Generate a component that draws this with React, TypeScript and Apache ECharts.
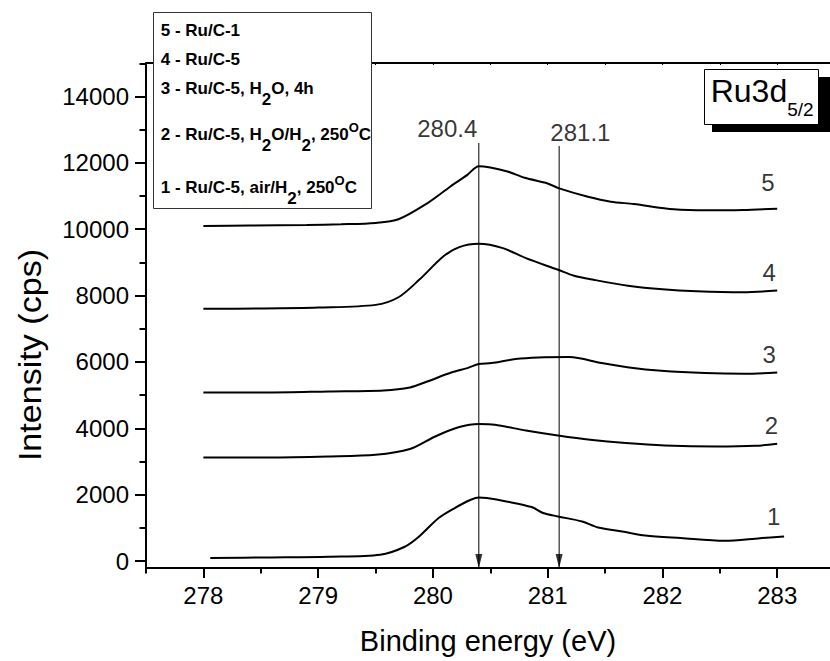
import React, { useEffect, useRef } from "react";
import * as echarts from "echarts";

const FONT = "'Liberation Sans', Arial, Helvetica, sans-serif";

// ---- axis ticks ----
const xMajorTicks = [278, 279, 280, 281, 282, 283];
const xMinorTicks = [277.5, 278.5, 279.5, 280.5, 281.5, 282.5];
const xTopTicks = [277.5, 278, 278.5, 279, 279.5, 280, 280.5, 281, 281.5, 282, 282.5, 283];
const yMajorTicks = [0, 2000, 4000, 6000, 8000, 10000, 12000, 14000];
const yMinorTicks = [1000, 3000, 5000, 7000, 9000, 11000, 13000, 15000];

// ---- spectra (binding energy, intensity) ----
const e1 = [278.06, 278.57, 279.09, 279.54, 279.75, 279.88, 280.05, 280.19, 280.33, 280.4, 280.47, 280.64, 280.86, 280.96, 281.09, 281.3, 281.44, 281.65, 281.85, 282.16, 282.54, 282.85, 283.06];
const i1 = [90, 108, 130, 190, 422, 741, 1296, 1597, 1847, 1916, 1898, 1796, 1627, 1446, 1344, 1193, 1012, 892, 771, 693, 610, 690, 741];

const e2 = [278.0, 278.57, 279.09, 279.5, 279.8, 280.02, 280.23, 280.4, 280.54, 280.81, 281.09, 281.37, 281.68, 282.02, 282.47, 282.81, 283.0];
const i2 = [3120, 3120, 3150, 3200, 3375, 3754, 4037, 4128, 4107, 3935, 3784, 3655, 3555, 3483, 3453, 3474, 3534];

const e3 = [278.0, 278.57, 279.09, 279.57, 279.8, 279.95, 280.16, 280.3, 280.4, 280.51, 280.72, 280.92, 281.19, 281.47, 281.71, 281.99, 282.37, 282.71, 283.0];
const i3 = [5080, 5080, 5110, 5140, 5230, 5410, 5680, 5815, 5936, 5966, 6086, 6134, 6146, 5966, 5833, 5734, 5664, 5643, 5683];

const e4 = [278.0, 278.5, 279.0, 279.5, 279.7, 279.88, 280.09, 280.23, 280.4, 280.61, 280.81, 281.09, 281.23, 281.4, 281.7, 282.0, 282.3, 282.7, 283.0];
const i4 = [7600, 7610, 7640, 7720, 7950, 8475, 9178, 9461, 9560, 9430, 9129, 8777, 8596, 8476, 8300, 8190, 8130, 8100, 8150];

const e5 = [278.0, 278.4, 278.9, 279.2, 279.5, 279.7, 279.95, 280.15, 280.3, 280.4, 280.5, 280.65, 280.8, 281.0, 281.1, 281.35, 281.55, 281.75, 282.1, 282.4, 282.7, 283.0];
const i5 = [10100, 10110, 10130, 10150, 10190, 10300, 10780, 11280, 11640, 11900, 11860, 11740, 11550, 11380, 11230, 10980, 10830, 10760, 10600, 10570, 10580, 10620];

// ---- curve number labels ----
const curveNames = ["1", "2", "3", "4", "5"];
const curveLabelX = [282.97, 282.95, 282.93, 282.93, 282.92];
const curveLabelY = [1330, 4070, 6210, 8710, 11410];

// ---- peak markers ----
const peakEnergies = [280.4, 281.1];
const peakLabels = ["280.4", "281.1"];
const peakLabelX = [280.125, 281.285];
const peakLabelY = [13030, 12910];
const arrowTopY = [12600, 12510];

// ---- legend text ( _x = subscript, ^x = superscript ) ----
const legendLines = [
  "5 - Ru/C-1",
  "4 - Ru/C-5",
  "3 - Ru/C-5, H_2O, 4h",
  "2 - Ru/C-5, H_2O/H_2, 250^OC",
  "1 - Ru/C-5, air/H_2, 250^OC",
];
const panelTitle = "Ru3d";
const panelSub = "5/2";
const yTitle = "Intensity (cps)";
const xTitle = "Binding energy (eV)";

const X_MIN = 277.5;
const X_MAX = 283.46;
const Y_MIN = -210;
const Y_MAX = 15010;

function parseRich(s: string) {
  const parts: { t: string; k: "n" | "sub" | "sup" }[] = [];
  let cur = "";
  for (let i = 0; i < s.length; i++) {
    const c = s[i];
    if ((c === "_" || c === "^") && i + 1 < s.length) {
      if (cur) parts.push({ t: cur, k: "n" });
      cur = "";
      parts.push({ t: s[i + 1], k: c === "_" ? "sub" : "sup" });
      i++;
    } else cur += c;
  }
  if (cur) parts.push({ t: cur, k: "n" });
  return parts;
}

export default function App() {
  const ref = useRef<HTMLDivElement>(null);
  useEffect(() => {
    document.body.style.margin = "0";
    if (!ref.current) return;
    const chart = echarts.init(ref.current, null, { renderer: "svg" });

    const canvas = document.createElement("canvas");
    const ctx = canvas.getContext("2d")!;
    const measure = (t: string, size: number, bold: boolean) => {
      ctx.font = `${bold ? "bold " : ""}${size}px ${FONT}`;
      return ctx.measureText(t).width;
    };
    const C = 0.3465; // central baseline offset (em)

    // legend graphic
    const legendBaselines = [36, 65, 94.3, 140, 193.3];
    const legendEls: any[] = [];
    legendLines.forEach((line, li) => {
      let x = 160.7;
      const base = legendBaselines[li];
      parseRich(line).forEach((p) => {
        const size = p.k === "sup" ? 13 : 17;
        const bl = p.k === "sub" ? base + 11.5 : p.k === "sup" ? base - 8.3 : base;
        legendEls.push({
          type: "text",
          x,
          y: bl - C * size,
          z: 101,
          style: {
            text: p.t,
            fontSize: size,
            fontWeight: "bold",
            fontFamily: FONT,
            fill: "#000",
            align: "left",
            verticalAlign: "middle",
          },
        });
        x += measure(p.t, size, true);
      });
    });

    const titleW = measure(panelTitle, 32, false);

    const lineSeries = (e: number[], v: number[]) => ({
      type: "line",
      xAxisIndex: 0,
      yAxisIndex: 0,
      data: e.map((x, i) => [x, v[i]]),
      symbol: "none",
      showSymbol: false,
      smooth: 0.3,
      silent: true,
      lineStyle: { color: "#000", width: 2 },
      z: 3,
    });

    const textLabel = {
      show: true,
      position: [0, 0],
      align: "center",
      verticalAlign: "middle",
      formatter: "{b}",
      fontSize: 24,
      color: "#000",
      fontFamily: FONT,
    };

    const option: any = {
      animation: false,
      grid: { left: 146, right: 0, top: 63, bottom: 93, containLabel: false },
      xAxis: [
        {
          type: "value",
          min: X_MIN,
          max: X_MAX,
          position: "bottom",
          axisLine: { show: true, onZero: false, lineStyle: { color: "#000", width: 2 } },
          axisTick: { show: true, customValues: xMajorTicks, length: 10, lineStyle: { color: "#000", width: 2 } },
          axisLabel: { show: true, customValues: xMajorTicks, margin: 15, fontSize: 24, color: "#000", fontFamily: FONT },
          splitLine: { show: false },
          name: xTitle,
          nameLocation: "middle",
          nameGap: 58,
          nameTextStyle: { fontSize: 29, color: "#000", fontFamily: FONT },
        },
        {
          type: "value",
          min: X_MIN,
          max: X_MAX,
          position: "bottom",
          axisLine: { show: false, onZero: false },
          axisTick: { show: true, customValues: xMinorTicks, length: 5.5, lineStyle: { color: "#000", width: 2 } },
          axisLabel: { show: false },
          splitLine: { show: false },
        },
        {
          type: "value",
          min: X_MIN,
          max: X_MAX,
          position: "top",
          axisLine: { show: true, onZero: false, lineStyle: { color: "#000", width: 2 } },
          axisTick: { show: true, inside: true, customValues: xTopTicks, length: 2, lineStyle: { color: "#000", width: 1 } },
          axisLabel: { show: false },
          splitLine: { show: false },
        },
      ],
      yAxis: [
        {
          type: "value",
          min: Y_MIN,
          max: Y_MAX,
          position: "left",
          axisLine: { show: true, onZero: false, lineStyle: { color: "#000", width: 2 } },
          axisTick: { show: true, customValues: yMajorTicks, length: 11, lineStyle: { color: "#000", width: 2 } },
          axisLabel: {
            show: true,
            customValues: yMajorTicks,
            margin: 17,
            fontSize: 24,
            color: "#000",
            fontFamily: FONT,
            formatter: (v: number) => String(v),
          },
          splitLine: { show: false },
        },
        {
          type: "value",
          min: Y_MIN,
          max: Y_MAX,
          position: "left",
          axisLine: { show: false, onZero: false },
          axisTick: { show: true, customValues: yMinorTicks, length: 6.5, lineStyle: { color: "#000", width: 2 } },
          axisLabel: { show: false },
          splitLine: { show: false },
        },
      ],
      series: [
        lineSeries(e1, i1),
        lineSeries(e2, i2),
        lineSeries(e3, i3),
        lineSeries(e4, i4),
        lineSeries(e5, i5),
        ...peakEnergies.map((pe, k) => ({
          type: "line",
          data: [
            [pe, arrowTopY[k]],
            [pe, Y_MIN],
          ],
          symbol: "none",
          silent: true,
          lineStyle: { color: "#000", width: 1 },
          z: 4,
        })),
        {
          type: "scatter",
          data: peakEnergies.map((pe) => [pe, Y_MIN]),
          symbol: "path://M0 0L6 0L3 14Z",
          symbolSize: [7, 14],
          symbolOffset: [0, "-50%"],
          itemStyle: { color: "#000" },
          silent: true,
          clip: false,
          z: 5,
        },
        {
          type: "scatter",
          data: curveNames.map((n, k) => ({ name: n, value: [curveLabelX[k], curveLabelY[k]] })),
          symbol: "circle",
          symbolSize: 0,
          itemStyle: { color: "transparent" },
          silent: true,
          label: textLabel,
          z: 6,
        },
        {
          type: "scatter",
          data: peakLabels.map((n, k) => ({ name: n, value: [peakLabelX[k], peakLabelY[k]] })),
          symbol: "circle",
          symbolSize: 0,
          itemStyle: { color: "transparent" },
          silent: true,
          label: textLabel,
          z: 6,
        },
      ],
      graphic: [
        {
          type: "text",
          x: 31,
          y: 355,
          rotation: Math.PI / 2,
          scaleX: 1.1,
          z: 100,
          style: {
            text: yTitle,
            fontSize: 31,
            fontFamily: FONT,
            fill: "#000",
            align: "center",
            verticalAlign: "middle",
          },
        },
        {
          type: "rect",
          z: 100,
          shape: { x: 153.5, y: 12.5, width: 218, height: 196 },
          style: { fill: "#fff", stroke: "#333", lineWidth: 1 },
        },
        ...legendEls,
        {
          type: "rect",
          z: 100,
          shape: { x: 712, y: 77, width: 120, height: 55 },
          style: { fill: "#000" },
        },
        {
          type: "rect",
          z: 101,
          shape: { x: 704.5, y: 69.5, width: 114, height: 55 },
          style: { fill: "#fff", stroke: "#000", lineWidth: 1 },
        },
        {
          type: "text",
          x: 710.7,
          y: 101.7 - C * 32,
          z: 102,
          style: { text: panelTitle, fontSize: 32, fontFamily: FONT, fill: "#000", align: "left", verticalAlign: "middle" },
        },
        {
          type: "text",
          x: 710.7 + titleW,
          y: 116 - C * 19,
          z: 102,
          style: { text: panelSub, fontSize: 19, fontFamily: FONT, fill: "#000", align: "left", verticalAlign: "middle" },
        },
      ],
    };
    chart.setOption(option);
    return () => chart.dispose();
  }, []);
  return <div ref={ref} style={{ width: 830, height: 661 }} />;
}
